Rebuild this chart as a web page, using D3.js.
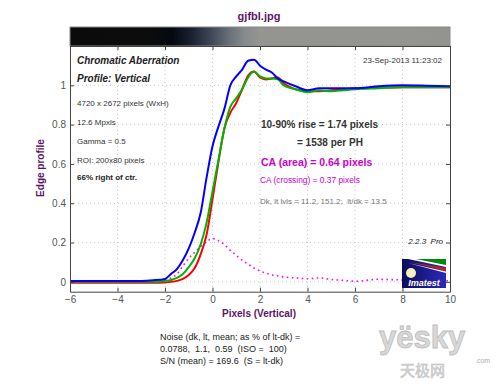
<!DOCTYPE html>
<html>
<head>
<meta charset="utf-8">
<script src="https://cdn.jsdelivr.net/npm/d3@7"></script>
<style>
  body { margin: 0; background: #fff; }
  svg { display: block; font-family: "Liberation Sans", Arial, sans-serif; }
  svg text { white-space: pre; }
</style>
</head>
<body>
<div id="app"></div>
<script>
// sample positions (pixels) and edge profiles
const pixels = [-6, -5, -4, -3, -2.5, -2, -1.75, -1.5, -1.25, -1, -0.75, -0.5, -0.25, 0, 0.25, 0.5, 0.75, 1, 1.25, 1.5, 1.75, 2, 2.25, 2.5, 2.75, 3, 3.5, 4, 4.5, 5, 5.5, 6, 7, 8, 9, 10]
const redProfile = [-0.005, -0.005, -0.005, -0.005, -0.005, -0.003, 0, 0.005, 0.015, 0.035, 0.07, 0.14, 0.24, 0.42, 0.61, 0.78, 0.86, 0.91, 0.98, 1.05, 1.07, 1.04, 1.03, 1.035, 1.04, 1.01, 0.98, 0.97, 0.97, 0.975, 0.98, 0.985, 0.988, 0.99, 0.99, 0.99]
const greenProfile = [0, 0, 0, 0, 0, 0.005, 0.01, 0.02, 0.04, 0.075, 0.12, 0.19, 0.3, 0.46, 0.62, 0.78, 0.89, 0.935, 0.98, 1.04, 1.07, 1.045, 1.035, 1.035, 1.03, 1.0, 0.98, 0.965, 0.975, 0.97, 0.975, 0.98, 0.985, 0.99, 0.99, 0.99]
const blueProfile = [0.005, 0.005, 0.005, 0.005, 0.008, 0.015, 0.04, 0.065, 0.11, 0.17, 0.25, 0.35, 0.53, 0.69, 0.79, 0.88, 1.0, 1.045, 1.08, 1.125, 1.13, 1.1, 1.08, 1.065, 1.035, 1.02, 0.995, 0.975, 0.985, 0.985, 0.985, 0.985, 0.995, 1.0, 0.998, 0.995]
const caDiff = [0, 0, 0, 0, 0.002, 0.01, 0.02, 0.04, 0.08, 0.12, 0.15, 0.18, 0.205, 0.22, 0.21, 0.19, 0.16, 0.135, 0.11, 0.09, 0.07, 0.055, 0.045, 0.035, 0.03, 0.025, 0.02, 0.016, 0.02, 0.012, 0.008, 0.003, 0.013, 0.01, 0.008, 0.005]

const xTicks = [-6, -4, -2, 0, 2, 4, 6, 8, 10]
const yTicks = [0, 0.2, 0.4, 0.6, 0.8, 1]

const infoLines = ["4720 x 2672 pixels (WxH)", "12.6 Mpxls", "Gamma = 0.5", "ROI: 200x80 pixels"]
const noiseLines = ["Noise (dk, lt, mean; as % of lt-dk) =", "0.0788,  1.1,  0.59  (ISO =  100)", "S/N (mean) = 169.6  (S = lt-dk)"]

const purple = "#5c1466"
const magenta = "#cc00cc"

const svg = d3.select('#app').append('svg')
    .attr('width', 500)
    .attr('height', 384)

const x = d3.scaleLinear().domain([-6, 10]).range([70, 450])
const y = d3.scaleLinear().domain([-0.05, 1.2]).range([291.7, 46])

// title
svg.append('text')
    .attr('x', 259).attr('y', 20)
    .attr('text-anchor', 'middle')
    .attr('font-size', 11).attr('font-weight', 'bold')
    .attr('fill', purple)
    .text('gjfbl.jpg')

// greyscale strip of the edge above the plot
const defs = svg.append('defs')
const grad = defs.append('linearGradient').attr('id', 'edge')
const stops = [[0, '#0b0b0b'], [0.21, '#0c0c0c'], [0.27, '#040910'], [0.32, '#1b2131'], [0.37, '#3e4656'], [0.42, '#6a707a'], [0.46, '#878b8d'], [0.5, '#949590'], [1, '#93948f']]
grad.selectAll('stop').data(stops).join('stop')
    .attr('offset', d => d[0]).attr('stop-color', d => d[1])
svg.append('rect')
    .attr('x', 70).attr('y', 27).attr('width', 380).attr('height', 19)
    .attr('fill', 'url(#edge)').attr('stroke', '#888').attr('stroke-width', 1)

defs.append('clipPath').attr('id', 'plotclip').append('rect')
    .attr('x', 70).attr('y', 46).attr('width', 380).attr('height', 245.7)

// grid
const grid = svg.append('g').attr('stroke', '#c8c8c8').attr('stroke-dasharray', '1,3')
grid.selectAll('.gx').data(xTicks.slice(1, -1)).join('line')
    .attr('x1', d => x(d)).attr('x2', d => x(d))
    .attr('y1', 46).attr('y2', 291.7)
grid.selectAll('.gy').data(yTicks).join('line')
    .attr('x1', 70).attr('x2', 450)
    .attr('y1', d => y(d)).attr('y2', d => y(d))

// text block inside the plot
const info = svg.append('g').attr('fill', '#222')
info.append('text').attr('x', 77).attr('y', 64)
    .attr('font-size', 10).attr('font-weight', 'bold').attr('font-style', 'italic')
    .text('Chromatic Aberration')
info.append('text').attr('x', 77).attr('y', 82)
    .attr('font-size', 10).attr('font-weight', 'bold').attr('font-style', 'italic')
    .text('Profile: Vertical')
info.selectAll('.il').data(infoLines).join('text')
    .attr('x', 77).attr('y', (d, i) => 106 + i * 19)
    .attr('font-size', 8).attr('fill', '#333')
    .text(d => d)
info.append('text').attr('x', 77).attr('y', 180)
    .attr('font-size', 8).attr('font-weight', 'bold')
    .text('66% right of ctr.')
info.append('text').attr('x', 442).attr('y', 63)
    .attr('text-anchor', 'end').attr('font-size', 8).attr('fill', '#333')
    .text('23-Sep-2013 11:23:02')

const res = svg.append('g')
res.append('text').attr('x', 261).attr('y', 128)
    .attr('font-size', 10).attr('font-weight', 'bold').attr('fill', '#333')
    .text('10-90% rise = 1.74 pixels')
res.append('text').attr('x', 297).attr('y', 146)
    .attr('font-size', 10).attr('font-weight', 'bold').attr('fill', '#333')
    .text('= 1538 per PH')
res.append('text').attr('x', 261).attr('y', 166)
    .attr('font-size', 10.5).attr('font-weight', 'bold').attr('fill', magenta)
    .text('CA (area) = 0.64 pixels')
res.append('text').attr('x', 260).attr('y', 183)
    .attr('font-size', 8.4).attr('fill', magenta)
    .text('CA (crossing) = 0.37 pixels')
res.append('text').attr('x', 260).attr('y', 204)
    .attr('font-size', 8).attr('fill', '#777')
    .text('Dk, lt lvls = 11.2, 151.2;  lt/dk = 13.5')
res.append('text').attr('x', 443).attr('y', 244)
    .attr('text-anchor', 'end').attr('font-size', 8).attr('font-style', 'italic').attr('fill', '#222')
    .text('2.2.3  Pro')

// curves
const line = data => d3.line()
    .x((d, i) => x(pixels[i]))
    .y(d => y(d))
    .curve(d3.curveMonotoneX)(data)

const curves = svg.append('g').attr('clip-path', 'url(#plotclip)').attr('fill', 'none')
curves.append('path').attr('d', line(caDiff))
    .attr('stroke', '#ff00ff').attr('stroke-width', 1.6).attr('stroke-dasharray', '1.6,3.4')
curves.append('path').attr('d', line(redProfile))
    .attr('stroke', '#ff0000').attr('stroke-width', 2)
curves.append('path').attr('d', line(greenProfile))
    .attr('stroke', '#00b400').attr('stroke-width', 2)
curves.append('path').attr('d', line(blueProfile))
    .attr('stroke', '#0000ff').attr('stroke-width', 2)

// Imatest logo
const logo = svg.append('g').attr('transform', 'translate(402,259)')
const lg = defs.append('linearGradient').attr('id', 'logobg')
lg.append('stop').attr('offset', 0).attr('stop-color', '#0c0c5c')
lg.append('stop').attr('offset', 1).attr('stop-color', '#2a2ab8')
logo.append('rect').attr('width', 44).attr('height', 29).attr('fill', 'url(#logobg)')
logo.append('polygon').attr('points', '14,0 44,0 44,6').attr('fill', '#008a00')
logo.append('polygon').attr('points', '6,0 14,0 44,6 44,8').attr('fill', '#ffffff')
logo.append('polygon').attr('points', '8,3 44,9 44,12').attr('fill', '#cc2200')
logo.append('polygon').attr('points', '6,4 44,12.5 44,14').attr('fill', '#ffffff')
logo.append('circle').attr('cx', 9).attr('cy', 14).attr('r', 5).attr('fill', '#f4f0b8')
logo.append('text').attr('x', 22).attr('y', 27)
    .attr('text-anchor', 'middle').attr('font-size', 9).attr('font-weight', 'bold')
    .attr('font-style', 'italic').attr('fill', '#fff')
    .text('Imatest')

// axes (ticks inward, box all round)
const axisStyle = g => {
  g.selectAll('.domain').attr('stroke', '#444')
  g.selectAll('.tick line').attr('stroke', '#444')
  g.selectAll('.tick text').attr('fill', '#555').attr('font-size', 10)
    .attr('font-family', '"Liberation Sans", Arial, sans-serif')
}
svg.append('g').attr('transform', 'translate(0,291.7)')
    .call(d3.axisBottom(x).tickValues(xTicks).tickSize(-4).tickSizeOuter(0).tickPadding(4))
    .call(axisStyle)
svg.append('g').attr('transform', 'translate(0,46)')
    .call(d3.axisTop(x).tickValues(xTicks).tickSize(-4).tickSizeOuter(0).tickFormat(''))
    .call(axisStyle)
svg.append('g').attr('transform', 'translate(70,0)')
    .call(d3.axisLeft(y).tickValues(yTicks).tickSize(-4).tickSizeOuter(0).tickPadding(4)
      .tickFormat(d => d === 0 || d === 1 ? String(d) : d3.format('.1f')(d)))
    .call(axisStyle)
svg.append('g').attr('transform', 'translate(450,0)')
    .call(d3.axisRight(y).tickValues(yTicks).tickSize(-4).tickSizeOuter(0).tickFormat(''))
    .call(axisStyle)

// axis titles
svg.append('text')
    .attr('transform', 'translate(44,168) rotate(-90)')
    .attr('text-anchor', 'middle').attr('font-size', 10).attr('font-weight', 'bold')
    .attr('fill', purple)
    .text('Edge profile')
svg.append('text')
    .attr('x', 259).attr('y', 317)
    .attr('text-anchor', 'middle').attr('font-size', 10).attr('font-weight', 'bold')
    .attr('fill', purple)
    .text('Pixels (Vertical)')

// noise summary
svg.selectAll('.noise').data(noiseLines).join('text')
    .attr('x', 160).attr('y', (d, i) => 340 + i * 12)
    .attr('font-size', 9).attr('fill', '#222')
    .text(d => d)

// watermark
const wm = svg.append('g')
wm.append('text').attr('x', 379).attr('y', 348)
    .attr('font-size', 31).attr('font-weight', 'bold')
    .attr('fill', '#d8d8d8').attr('stroke', '#bdbdbd').attr('stroke-width', 0.8)
    .text('yësky')
wm.append('text').attr('x', 475).attr('y', 363)
    .attr('font-size', 7).attr('fill', '#b0b0b0')
    .text('.com')
wm.append('text').attr('x', 400).attr('y', 376)
    .attr('font-size', 15).attr('font-family', '"Noto Sans CJK SC", sans-serif')
    .attr('fill', '#d6d6d6').attr('stroke', '#c0c0c0').attr('stroke-width', 0.5)
    .text('天极网')
</script>
</body>
</html>
